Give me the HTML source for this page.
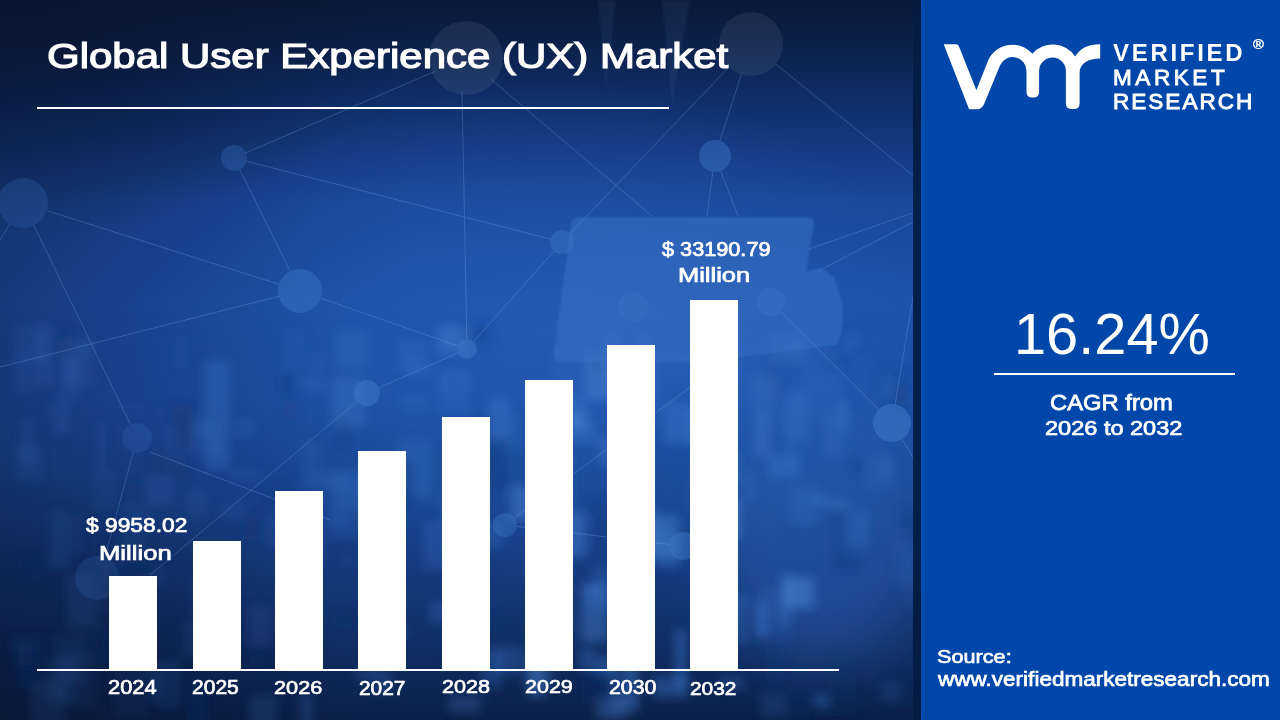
<!DOCTYPE html>
<html><head><meta charset="utf-8">
<style>
html,body{margin:0;padding:0;width:1280px;height:720px;overflow:hidden;background:#0a1a3d;}
body{position:relative;font-family:"Liberation Sans",sans-serif;color:#fff;}
#left{position:absolute;left:0;top:0;width:921px;height:720px;overflow:hidden;
  background:
   radial-gradient(ellipse 360px 260px at 0px 720px, rgba(9,20,48,0.6) 0%, rgba(9,20,48,0.3) 50%, rgba(9,20,48,0) 100%),
   radial-gradient(ellipse 420px 240px at 0px 0px, rgba(9,20,48,0.8) 0%, rgba(9,20,48,0.4) 50%, rgba(9,20,48,0) 100%),
   linear-gradient(90deg, rgba(10,24,60,0.42) 0%, rgba(10,24,60,0.22) 18%, rgba(10,24,60,0.05) 35%, rgba(10,24,60,0) 45%),
   radial-gradient(ellipse 380px 260px at 560px 340px, rgba(50,105,195,0.35) 0%, rgba(50,105,195,0) 100%),
   linear-gradient(180deg,#0a1838 0%,#0c2048 6%,#10306e 15%,#1a489b 28%,#1e52aa 42%,#1d50a6 55%,#18448f 70%,#12336f 86%,#0c2048 100%);}
#strip{position:absolute;left:913px;top:0;width:9px;height:720px;background:linear-gradient(180deg,#061a40,#04204a 30%,#03204a 70%,#061a40);}
#edge{position:absolute;left:922px;top:0;width:3px;height:720px;background:#0a52b8;opacity:.6}
#right{position:absolute;left:921px;top:0;width:359px;height:720px;background:#0047a9;}
.t{position:absolute;white-space:nowrap;font-weight:bold;line-height:1;transform-origin:0 0;}
.sb{font-weight:normal !important;-webkit-text-stroke:0.035em #fff;}
.bar{position:absolute;background:#fff;width:48px;}
.hl{position:absolute;background:#fff;height:2px;}
</style></head><body>
<div id="left">
  <svg id="net" width="921" height="720" style="position:absolute;left:0;top:0">
<defs><filter id="bl" x="-20%" y="-20%" width="140%" height="140%"><feGaussianBlur stdDeviation="5"/></filter><filter id="bl2"><feGaussianBlur stdDeviation="1"/></filter>
<filter id="bl3" x="-50%" y="-50%" width="200%" height="200%"><feGaussianBlur stdDeviation="30"/></filter>
<linearGradient id="lg" x1="0" y1="0" x2="0" y2="1"><stop offset="0" stop-color="#3a74c8" stop-opacity="0.42"/><stop offset="0.55" stop-color="#3a74c8" stop-opacity="0.3"/><stop offset="1" stop-color="#3a74c8" stop-opacity="0"/></linearGradient>
<mask id="cm" maskUnits="userSpaceOnUse" x="0" y="0" width="921" height="720"><rect x="0" y="0" width="921" height="720" fill="#fff"/><circle cx="234" cy="158" r="13" fill="#000"/><circle cx="23" cy="203" r="25" fill="#000"/><circle cx="300" cy="291" r="22" fill="#000"/><circle cx="467" cy="349" r="10" fill="#000"/><circle cx="367" cy="393" r="13" fill="#000"/><circle cx="466" cy="58" r="33" fill="#000"/><circle cx="751" cy="44" r="32" fill="#000"/><circle cx="715" cy="156" r="16" fill="#000"/><circle cx="562" cy="242" r="12" fill="#000"/><circle cx="633" cy="307" r="15" fill="#000"/><circle cx="505" cy="525" r="12" fill="#000"/><circle cx="892" cy="423" r="19" fill="#000"/><circle cx="683" cy="546" r="14" fill="#000"/><circle cx="771" cy="302" r="14" fill="#000"/><circle cx="137" cy="438" r="15" fill="#000"/><circle cx="97" cy="578" r="22" fill="#000"/></mask></defs>
<g filter="url(#bl3)">
<ellipse cx="820" cy="520" rx="110" ry="150" fill="#2a62b8" opacity="0.45"/>
<ellipse cx="60" cy="640" rx="90" ry="70" fill="#0a1a40" opacity="0.0"/>
</g>
<g filter="url(#bl)">
<rect x="298" y="377" width="26" height="12" fill="#3570c4" opacity="0.20"/>
<rect x="838" y="402" width="10" height="30" fill="#4a84d2" opacity="0.26"/>
<rect x="762" y="367" width="14" height="41" fill="#163a7c" opacity="0.16"/>
<rect x="46" y="404" width="24" height="15" fill="#4a84d2" opacity="0.06"/>
<rect x="284" y="630" width="13" height="38" fill="#3570c4" opacity="0.11"/>
<rect x="656" y="534" width="25" height="34" fill="#3570c4" opacity="0.36"/>
<rect x="850" y="457" width="15" height="17" fill="#13306a" opacity="0.19"/>
<rect x="484" y="653" width="28" height="23" fill="#13306a" opacity="0.16"/>
<rect x="152" y="450" width="34" height="30" fill="#13306a" opacity="0.33"/>
<rect x="528" y="653" width="17" height="44" fill="#4a84d2" opacity="0.40"/>
<rect x="63" y="356" width="16" height="44" fill="#4a84d2" opacity="0.11"/>
<rect x="596" y="697" width="31" height="23" fill="#4a84d2" opacity="0.30"/>
<rect x="866" y="455" width="25" height="34" fill="#3570c4" opacity="0.17"/>
<rect x="228" y="469" width="32" height="12" fill="#4a84d2" opacity="0.12"/>
<rect x="126" y="484" width="23" height="45" fill="#163a7c" opacity="0.37"/>
<rect x="882" y="377" width="13" height="20" fill="#3570c4" opacity="0.33"/>
<rect x="168" y="427" width="12" height="36" fill="#3570c4" opacity="0.17"/>
<rect x="636" y="516" width="25" height="43" fill="#4a84d2" opacity="0.48"/>
<rect x="361" y="472" width="11" height="41" fill="#3a74c8" opacity="0.32"/>
<rect x="406" y="362" width="25" height="13" fill="#4a84d2" opacity="0.15"/>
<rect x="335" y="330" width="32" height="40" fill="#3570c4" opacity="0.30"/>
<rect x="555" y="500" width="11" height="33" fill="#0f2a5c" opacity="0.14"/>
<rect x="79" y="359" width="18" height="22" fill="#13306a" opacity="0.28"/>
<rect x="189" y="682" width="18" height="44" fill="#163a7c" opacity="0.21"/>
<rect x="592" y="355" width="32" height="35" fill="#0f2a5c" opacity="0.16"/>
<rect x="491" y="616" width="17" height="20" fill="#13306a" opacity="0.21"/>
<rect x="754" y="601" width="14" height="35" fill="#3a74c8" opacity="0.47"/>
<rect x="728" y="499" width="13" height="39" fill="#4a84d2" opacity="0.49"/>
<rect x="880" y="459" width="14" height="20" fill="#3a74c8" opacity="0.25"/>
<rect x="907" y="552" width="8" height="55" fill="#4a84d2" opacity="0.14"/>
<rect x="608" y="666" width="30" height="47" fill="#3a74c8" opacity="0.33"/>
<rect x="586" y="353" width="34" height="46" fill="#4a84d2" opacity="0.49"/>
<rect x="668" y="385" width="12" height="16" fill="#163a7c" opacity="0.08"/>
<rect x="761" y="693" width="26" height="26" fill="#3a74c8" opacity="0.17"/>
<rect x="736" y="596" width="11" height="47" fill="#3a74c8" opacity="0.44"/>
<rect x="194" y="416" width="16" height="21" fill="#3570c4" opacity="0.14"/>
<rect x="768" y="343" width="29" height="55" fill="#163a7c" opacity="0.14"/>
<rect x="845" y="511" width="23" height="35" fill="#3570c4" opacity="0.34"/>
<rect x="560" y="615" width="12" height="15" fill="#3a74c8" opacity="0.35"/>
<rect x="300" y="517" width="24" height="49" fill="#4a84d2" opacity="0.11"/>
<rect x="176" y="336" width="11" height="32" fill="#3a74c8" opacity="0.11"/>
<rect x="564" y="512" width="22" height="44" fill="#4a84d2" opacity="0.43"/>
<rect x="468" y="414" width="23" height="54" fill="#163a7c" opacity="0.23"/>
<rect x="187" y="490" width="20" height="28" fill="#4a84d2" opacity="0.10"/>
<rect x="67" y="574" width="30" height="55" fill="#4a84d2" opacity="0.11"/>
<rect x="337" y="416" width="12" height="32" fill="#13306a" opacity="0.19"/>
<rect x="449" y="696" width="31" height="16" fill="#4a84d2" opacity="0.25"/>
<rect x="388" y="456" width="11" height="27" fill="#3570c4" opacity="0.22"/>
<rect x="17" y="446" width="25" height="35" fill="#3a74c8" opacity="0.14"/>
<rect x="97" y="421" width="9" height="49" fill="#3a74c8" opacity="0.12"/>
<rect x="782" y="577" width="34" height="29" fill="#4a84d2" opacity="0.33"/>
<rect x="645" y="354" width="10" height="44" fill="#3a74c8" opacity="0.29"/>
<rect x="16" y="354" width="15" height="40" fill="#3570c4" opacity="0.13"/>
<rect x="418" y="449" width="23" height="56" fill="#3a74c8" opacity="0.14"/>
<rect x="653" y="676" width="35" height="22" fill="#3570c4" opacity="0.42"/>
<rect x="489" y="398" width="20" height="43" fill="#3a74c8" opacity="0.43"/>
<rect x="34" y="327" width="22" height="59" fill="#3a74c8" opacity="0.13"/>
<rect x="98" y="631" width="20" height="34" fill="#0f2a5c" opacity="0.39"/>
<rect x="283" y="402" width="14" height="18" fill="#163a7c" opacity="0.25"/>
<rect x="373" y="452" width="10" height="15" fill="#4a84d2" opacity="0.31"/>
<rect x="397" y="341" width="27" height="28" fill="#3570c4" opacity="0.26"/>
<rect x="638" y="337" width="13" height="22" fill="#3570c4" opacity="0.54"/>
<rect x="896" y="528" width="15" height="58" fill="#3570c4" opacity="0.17"/>
<rect x="309" y="352" width="16" height="42" fill="#3a74c8" opacity="0.12"/>
<rect x="752" y="375" width="24" height="28" fill="#4a84d2" opacity="0.24"/>
<rect x="539" y="521" width="29" height="42" fill="#163a7c" opacity="0.13"/>
<rect x="300" y="694" width="12" height="46" fill="#3a74c8" opacity="0.25"/>
<rect x="659" y="515" width="20" height="44" fill="#4a84d2" opacity="0.47"/>
<rect x="524" y="629" width="8" height="44" fill="#163a7c" opacity="0.18"/>
<rect x="639" y="407" width="9" height="15" fill="#3a74c8" opacity="0.33"/>
<rect x="416" y="339" width="9" height="36" fill="#3570c4" opacity="0.13"/>
<rect x="735" y="604" width="22" height="36" fill="#13306a" opacity="0.17"/>
<rect x="436" y="628" width="32" height="20" fill="#13306a" opacity="0.22"/>
<rect x="899" y="508" width="19" height="33" fill="#13306a" opacity="0.21"/>
<rect x="592" y="349" width="12" height="21" fill="#0f2a5c" opacity="0.14"/>
<rect x="123" y="503" width="22" height="59" fill="#3a74c8" opacity="0.11"/>
<rect x="268" y="516" width="21" height="32" fill="#4a84d2" opacity="0.12"/>
<rect x="901" y="676" width="8" height="32" fill="#0f2a5c" opacity="0.27"/>
<rect x="356" y="668" width="34" height="12" fill="#4a84d2" opacity="0.22"/>
<rect x="877" y="370" width="31" height="34" fill="#163a7c" opacity="0.16"/>
<rect x="459" y="653" width="19" height="16" fill="#163a7c" opacity="0.16"/>
<rect x="278" y="373" width="18" height="24" fill="#13306a" opacity="0.19"/>
<rect x="312" y="471" width="34" height="18" fill="#4a84d2" opacity="0.16"/>
<rect x="343" y="469" width="36" height="39" fill="#3570c4" opacity="0.26"/>
<rect x="787" y="427" width="9" height="42" fill="#3a74c8" opacity="0.23"/>
<rect x="245" y="514" width="13" height="27" fill="#13306a" opacity="0.31"/>
<rect x="581" y="667" width="34" height="37" fill="#13306a" opacity="0.18"/>
<rect x="378" y="554" width="12" height="53" fill="#4a84d2" opacity="0.15"/>
<rect x="435" y="451" width="16" height="46" fill="#0f2a5c" opacity="0.16"/>
<rect x="220" y="504" width="27" height="14" fill="#3a74c8" opacity="0.10"/>
<rect x="834" y="509" width="14" height="55" fill="#0f2a5c" opacity="0.16"/>
<rect x="505" y="413" width="13" height="37" fill="#3570c4" opacity="0.23"/>
<rect x="525" y="657" width="29" height="29" fill="#4a84d2" opacity="0.23"/>
<rect x="249" y="606" width="22" height="38" fill="#4a84d2" opacity="0.16"/>
<rect x="580" y="648" width="14" height="22" fill="#3570c4" opacity="0.39"/>
<rect x="398" y="439" width="31" height="58" fill="#3570c4" opacity="0.29"/>
<rect x="825" y="500" width="24" height="8" fill="#4a84d2" opacity="0.38"/>
<rect x="895" y="414" width="11" height="16" fill="#4a84d2" opacity="0.15"/>
<rect x="760" y="586" width="32" height="55" fill="#3a74c8" opacity="0.17"/>
<rect x="116" y="536" width="9" height="45" fill="#163a7c" opacity="0.21"/>
<rect x="586" y="585" width="11" height="12" fill="#4a84d2" opacity="0.24"/>
<rect x="240" y="620" width="8" height="36" fill="#0f2a5c" opacity="0.34"/>
<rect x="594" y="656" width="21" height="20" fill="#3570c4" opacity="0.42"/>
<rect x="283" y="328" width="22" height="43" fill="#3570c4" opacity="0.13"/>
<rect x="391" y="461" width="22" height="44" fill="#0f2a5c" opacity="0.22"/>
<rect x="182" y="623" width="29" height="34" fill="#3a74c8" opacity="0.10"/>
<rect x="755" y="408" width="14" height="48" fill="#4a84d2" opacity="0.32"/>
<rect x="173" y="405" width="20" height="43" fill="#13306a" opacity="0.36"/>
<rect x="50" y="329" width="25" height="30" fill="#13306a" opacity="0.25"/>
<rect x="827" y="656" width="29" height="60" fill="#0f2a5c" opacity="0.12"/>
<rect x="601" y="519" width="21" height="24" fill="#0f2a5c" opacity="0.18"/>
<rect x="407" y="361" width="10" height="12" fill="#3a74c8" opacity="0.26"/>
<rect x="699" y="464" width="30" height="24" fill="#13306a" opacity="0.07"/>
<rect x="436" y="462" width="34" height="18" fill="#3570c4" opacity="0.15"/>
<rect x="378" y="628" width="29" height="10" fill="#3a74c8" opacity="0.30"/>
<rect x="57" y="394" width="10" height="39" fill="#3570c4" opacity="0.14"/>
<rect x="568" y="420" width="28" height="24" fill="#3a74c8" opacity="0.41"/>
<rect x="549" y="626" width="35" height="11" fill="#13306a" opacity="0.14"/>
<rect x="881" y="682" width="19" height="21" fill="#3570c4" opacity="0.17"/>
<rect x="457" y="323" width="34" height="24" fill="#13306a" opacity="0.19"/>
<rect x="302" y="441" width="18" height="49" fill="#3a74c8" opacity="0.17"/>
<rect x="147" y="475" width="26" height="33" fill="#3a74c8" opacity="0.15"/>
<rect x="814" y="695" width="15" height="12" fill="#3570c4" opacity="0.42"/>
<rect x="895" y="386" width="12" height="32" fill="#13306a" opacity="0.23"/>
<rect x="780" y="572" width="11" height="52" fill="#4a84d2" opacity="0.24"/>
<rect x="234" y="419" width="20" height="18" fill="#3570c4" opacity="0.21"/>
<rect x="533" y="444" width="19" height="60" fill="#3a74c8" opacity="0.36"/>
<rect x="93" y="496" width="9" height="8" fill="#13306a" opacity="0.36"/>
<rect x="842" y="335" width="16" height="14" fill="#4a84d2" opacity="0.20"/>
<rect x="69" y="515" width="13" height="39" fill="#163a7c" opacity="0.39"/>
<rect x="97" y="547" width="25" height="19" fill="#3a74c8" opacity="0.05"/>
<rect x="921" y="335" width="29" height="56" fill="#0f2a5c" opacity="0.18"/>
<rect x="342" y="556" width="10" height="10" fill="#3570c4" opacity="0.12"/>
<rect x="93" y="470" width="23" height="41" fill="#3a74c8" opacity="0.09"/>
<rect x="250" y="696" width="27" height="30" fill="#4a84d2" opacity="0.17"/>
<rect x="329" y="478" width="32" height="60" fill="#3a74c8" opacity="0.18"/>
<rect x="373" y="678" width="20" height="16" fill="#3a74c8" opacity="0.21"/>
<rect x="813" y="495" width="13" height="9" fill="#4a84d2" opacity="0.37"/>
<rect x="365" y="538" width="34" height="46" fill="#3570c4" opacity="0.18"/>
<rect x="480" y="672" width="11" height="34" fill="#13306a" opacity="0.13"/>
<rect x="771" y="337" width="34" height="24" fill="#4a84d2" opacity="0.28"/>
<rect x="833" y="556" width="31" height="16" fill="#13306a" opacity="0.19"/>
<rect x="566" y="395" width="21" height="37" fill="#4a84d2" opacity="0.23"/>
<rect x="331" y="377" width="35" height="50" fill="#4a84d2" opacity="0.27"/>
<rect x="619" y="574" width="17" height="28" fill="#4a84d2" opacity="0.46"/>
<rect x="598" y="437" width="15" height="28" fill="#4a84d2" opacity="0.33"/>
<rect x="22" y="555" width="22" height="20" fill="#0f2a5c" opacity="0.36"/>
<rect x="746" y="472" width="10" height="27" fill="#3570c4" opacity="0.33"/>
<rect x="605" y="335" width="12" height="56" fill="#4a84d2" opacity="0.36"/>
<rect x="50" y="511" width="19" height="57" fill="#3a74c8" opacity="0.14"/>
<rect x="674" y="630" width="13" height="59" fill="#3a74c8" opacity="0.43"/>
<rect x="664" y="404" width="31" height="40" fill="#3570c4" opacity="0.51"/>
<rect x="253" y="630" width="12" height="34" fill="#13306a" opacity="0.26"/>
<rect x="567" y="410" width="18" height="18" fill="#4a84d2" opacity="0.47"/>
<rect x="626" y="660" width="13" height="49" fill="#4a84d2" opacity="0.21"/>
<rect x="790" y="687" width="21" height="35" fill="#13306a" opacity="0.12"/>
<rect x="493" y="646" width="29" height="27" fill="#3570c4" opacity="0.32"/>
<rect x="332" y="611" width="20" height="17" fill="#13306a" opacity="0.17"/>
<rect x="475" y="438" width="35" height="53" fill="#0f2a5c" opacity="0.20"/>
<rect x="688" y="404" width="16" height="41" fill="#3570c4" opacity="0.49"/>
<rect x="122" y="406" width="26" height="9" fill="#3570c4" opacity="0.08"/>
<rect x="482" y="523" width="20" height="24" fill="#3570c4" opacity="0.32"/>
<rect x="437" y="371" width="34" height="21" fill="#3a74c8" opacity="0.15"/>
<rect x="133" y="573" width="16" height="50" fill="#13306a" opacity="0.31"/>
<rect x="518" y="453" width="26" height="31" fill="#163a7c" opacity="0.15"/>
<rect x="152" y="320" width="10" height="9" fill="#3a74c8" opacity="0.06"/>
<rect x="717" y="325" width="23" height="57" fill="#3a74c8" opacity="0.35"/>
<rect x="592" y="566" width="20" height="40" fill="#3a74c8" opacity="0.28"/>
<rect x="45" y="658" width="30" height="45" fill="#3570c4" opacity="0.12"/>
<rect x="429" y="602" width="21" height="20" fill="#3a74c8" opacity="0.29"/>
<rect x="114" y="659" width="34" height="57" fill="#3a74c8" opacity="0.07"/>
<rect x="510" y="486" width="30" height="35" fill="#4a84d2" opacity="0.43"/>
<rect x="824" y="352" width="22" height="17" fill="#163a7c" opacity="0.12"/>
<rect x="147" y="668" width="13" height="28" fill="#3570c4" opacity="0.14"/>
<rect x="581" y="583" width="27" height="59" fill="#4a84d2" opacity="0.41"/>
<rect x="790" y="486" width="28" height="38" fill="#3a74c8" opacity="0.27"/>
<rect x="539" y="535" width="13" height="10" fill="#4a84d2" opacity="0.45"/>
<rect x="318" y="374" width="9" height="10" fill="#163a7c" opacity="0.13"/>
<rect x="62" y="338" width="32" height="48" fill="#4a84d2" opacity="0.13"/>
<rect x="61" y="650" width="34" height="57" fill="#3a74c8" opacity="0.07"/>
<rect x="31" y="681" width="34" height="47" fill="#4a84d2" opacity="0.11"/>
<rect x="439" y="370" width="30" height="42" fill="#3570c4" opacity="0.25"/>
<rect x="19" y="418" width="16" height="45" fill="#3570c4" opacity="0.12"/>
<rect x="554" y="501" width="16" height="47" fill="#13306a" opacity="0.13"/>
<rect x="712" y="452" width="28" height="36" fill="#3a74c8" opacity="0.37"/>
<rect x="264" y="486" width="23" height="23" fill="#13306a" opacity="0.13"/>
<rect x="452" y="507" width="30" height="18" fill="#3570c4" opacity="0.39"/>
<rect x="474" y="540" width="12" height="50" fill="#13306a" opacity="0.17"/>
<rect x="101" y="562" width="10" height="49" fill="#13306a" opacity="0.31"/>
<rect x="328" y="472" width="19" height="54" fill="#4a84d2" opacity="0.11"/>
<rect x="190" y="420" width="33" height="34" fill="#4a84d2" opacity="0.10"/>
<rect x="424" y="522" width="29" height="47" fill="#3570c4" opacity="0.28"/>
<rect x="481" y="650" width="21" height="37" fill="#3570c4" opacity="0.27"/>
<rect x="712" y="540" width="12" height="32" fill="#13306a" opacity="0.13"/>
<rect x="246" y="607" width="31" height="40" fill="#13306a" opacity="0.29"/>
<rect x="555" y="452" width="15" height="58" fill="#4a84d2" opacity="0.48"/>
<rect x="152" y="570" width="13" height="16" fill="#3570c4" opacity="0.13"/>
<rect x="401" y="395" width="26" height="14" fill="#3570c4" opacity="0.23"/>
<rect x="12" y="645" width="20" height="20" fill="#0f2a5c" opacity="0.27"/>
<rect x="131" y="549" width="19" height="47" fill="#0f2a5c" opacity="0.33"/>
<rect x="541" y="566" width="32" height="43" fill="#163a7c" opacity="0.17"/>
<rect x="785" y="578" width="26" height="32" fill="#4a84d2" opacity="0.36"/>
<rect x="824" y="412" width="19" height="45" fill="#3570c4" opacity="0.28"/>
<rect x="18" y="646" width="23" height="42" fill="#163a7c" opacity="0.23"/>
<rect x="10" y="636" width="33" height="14" fill="#3a74c8" opacity="0.06"/>
<rect x="720" y="677" width="23" height="13" fill="#4a84d2" opacity="0.25"/>
<rect x="438" y="326" width="30" height="27" fill="#4a84d2" opacity="0.38"/>
<rect x="193" y="580" width="19" height="48" fill="#4a84d2" opacity="0.11"/>
<rect x="52" y="424" width="19" height="9" fill="#3570c4" opacity="0.11"/>
<rect x="622" y="540" width="11" height="24" fill="#4a84d2" opacity="0.53"/>
<rect x="916" y="685" width="21" height="17" fill="#13306a" opacity="0.25"/>
<rect x="584" y="498" width="24" height="20" fill="#0f2a5c" opacity="0.15"/>
<rect x="765" y="622" width="20" height="60" fill="#163a7c" opacity="0.10"/>
<rect x="768" y="455" width="32" height="22" fill="#3570c4" opacity="0.46"/>
<rect x="625" y="503" width="31" height="50" fill="#4a84d2" opacity="0.30"/>
<rect x="442" y="483" width="26" height="42" fill="#3570c4" opacity="0.36"/>
<rect x="53" y="635" width="33" height="49" fill="#3570c4" opacity="0.11"/>
<rect x="14" y="324" width="35" height="42" fill="#3a74c8" opacity="0.10"/>
<rect x="787" y="391" width="21" height="49" fill="#3570c4" opacity="0.39"/>
<rect x="155" y="659" width="25" height="49" fill="#163a7c" opacity="0.34"/>
<rect x="204" y="360" width="26" height="110" rx="8" fill="#3a74c8" opacity="0.35"/>
</g>
<path d="M580 217 L808 217 Q815 217 814 224 L806 272 Q825 262 835 280 L842 300 Q846 330 836 345 L700 362 L562 362 Q553 362 554 352 L571 224 Q572 217 580 217 Z" fill="#3a74c8" opacity="0.5" filter="url(#bl2)"/>
<path d="M554 346 L700 356 L836 345 L850 420 L760 440 L600 450 L545 440 Z" fill="url(#lg)" opacity="0.5" filter="url(#bl)"/>
<g stroke="#7fb0ef" stroke-width="1" opacity="0.28" mask="url(#cm)">
<line x1="234" y1="158" x2="466" y2="58"/>
<line x1="234" y1="158" x2="562" y2="242"/>
<line x1="234" y1="158" x2="300" y2="291"/>
<line x1="23" y1="203" x2="300" y2="291"/>
<line x1="23" y1="203" x2="137" y2="438"/>
<line x1="23" y1="203" x2="0" y2="240"/>
<line x1="300" y1="291" x2="467" y2="349"/>
<line x1="300" y1="291" x2="0" y2="367"/>
<line x1="462" y1="90" x2="467" y2="349"/>
<line x1="367" y1="393" x2="467" y2="349"/>
<line x1="367" y1="393" x2="150" y2="575"/>
<line x1="466" y1="58" x2="652" y2="216"/>
<line x1="751" y1="44" x2="921" y2="182"/>
<line x1="715" y1="156" x2="751" y2="44"/>
<line x1="715" y1="156" x2="707" y2="216"/>
<line x1="715" y1="156" x2="738" y2="216"/>
<line x1="562" y1="242" x2="467" y2="349"/>
<line x1="562" y1="242" x2="751" y2="44"/>
<line x1="809" y1="249" x2="921" y2="210"/>
<line x1="818" y1="271" x2="921" y2="218"/>
<line x1="892" y1="423" x2="771" y2="302"/>
<line x1="892" y1="423" x2="921" y2="250"/>
<line x1="683" y1="546" x2="505" y2="525"/>
<line x1="137" y1="438" x2="100" y2="576"/>
<line x1="150" y1="452" x2="330" y2="520"/>
<line x1="505" y1="525" x2="700" y2="380"/>
<line x1="892" y1="423" x2="921" y2="470"/>
</g><g fill="#3f78c8">
<circle cx="234" cy="158" r="13" opacity="0.3"/>
<circle cx="23" cy="203" r="25" opacity="0.22"/>
<circle cx="300" cy="291" r="22" opacity="0.45"/>
<circle cx="467" cy="349" r="10" opacity="0.5"/>
<circle cx="367" cy="393" r="13" opacity="0.5"/>
<circle cx="466" cy="58" r="33" opacity="0"/>
<circle cx="751" cy="44" r="32" opacity="0"/>
<circle cx="715" cy="156" r="16" opacity="0.45"/>
<circle cx="562" cy="242" r="12" opacity="0.45"/>
<circle cx="633" cy="307" r="15" opacity="0.3"/>
<circle cx="505" cy="525" r="12" opacity="0.4"/>
<circle cx="892" cy="423" r="19" opacity="0.55"/>
<circle cx="683" cy="546" r="14" opacity="0.45"/>
<circle cx="771" cy="302" r="14" opacity="0.35"/>
<circle cx="137" cy="438" r="15" opacity="0.2"/>
<circle cx="97" cy="578" r="22" opacity="0.18"/>
</g>
<g fill="#fff"><circle cx="466" cy="58" r="37" opacity="0.07"/><circle cx="751" cy="44" r="32" opacity="0.07"/></g>
<g fill="#8ab4ee" filter="url(#bl2)"><path d="M598 0 L616 0 L606 90 Z" opacity="0.07"/><path d="M662 0 L690 0 L672 105 Z" opacity="0.07"/></g>
</svg>
  <div class="t sb" id="title" style="left:47.0px;top:39.0px;font-size:34.94px;transform:scaleX(1.2022)">Global User Experience (UX) Market</div>
  <div class="hl" style="left:37px;top:107px;width:632px;"></div>

  <div class="bar" style="left:109px;top:576px;height:94px"></div>
  <div class="bar" style="left:193px;top:541px;height:129px"></div>
  <div class="bar" style="left:275px;top:491px;height:179px"></div>
  <div class="bar" style="left:358px;top:451px;height:219px"></div>
  <div class="bar" style="left:442px;top:417px;height:253px"></div>
  <div class="bar" style="left:525px;top:380px;height:290px"></div>
  <div class="bar" style="left:607px;top:345px;height:325px"></div>
  <div class="bar" style="left:690px;top:300px;height:370px"></div>
  <div class="hl" style="left:37px;top:669px;width:802px;"></div>

  <div id="l1a" class="t sb lab" style="left:85.9px;top:514.0px;font-size:21.0px;transform:scaleX(1.0848)">$ 9958.02</div>
  <div id="l1b" class="t sb lab" style="left:99.2px;top:543.0px;font-size:20.55px;transform:scaleX(1.2474)">Million</div>
  <div id="l2a" class="t sb lab" style="left:661.5px;top:237.8px;font-size:21.0px;transform:scaleX(1.0324)">$ 33190.79</div>
  <div id="l2b" class="t sb lab" style="left:678.2px;top:266.4px;font-size:19.5px;transform:scaleX(1.306)">Million</div>

  <div id="y24" class="t sb yr" style="left:107.8px;top:677.6px;font-size:19.9px;transform:scaleX(1.0974)">2024</div>
  <div id="y25" class="t sb yr" style="left:192.4px;top:677.6px;font-size:19.9px;transform:scaleX(1.0581)">2025</div>
  <div id="y26" class="t sb yr" style="left:274.1px;top:679.3px;font-size:18.89px;transform:scaleX(1.1497)">2026</div>
  <div id="y27" class="t sb yr" style="left:358.5px;top:677.5px;font-size:20.41px;transform:scaleX(1.0192)">2027</div>
  <div id="y28" class="t sb yr" style="left:441.5px;top:677.5px;font-size:18.89px;transform:scaleX(1.1427)">2028</div>
  <div id="y29" class="t sb yr" style="left:524.5px;top:677.5px;font-size:18.89px;transform:scaleX(1.1374)">2029</div>
  <div id="y30" class="t sb yr" style="left:608.8px;top:677.8px;font-size:19.52px;transform:scaleX(1.0929)">2030</div>
  <div id="y32" class="t sb yr" style="left:690.2px;top:679.3px;font-size:19.05px;transform:scaleX(1.0976)">2032</div>
</div>
<div id="strip"></div>
<div id="right">
  <div id="edge" style="left:0"></div>
  <div id="v1" class="t" style="left:192.0px;top:41.0px;font-size:24.0px;letter-spacing:2.7px">VERIFIED</div>
  <div id="v2" class="t" style="left:192.0px;top:67.0px;font-size:22.5px;letter-spacing:3.58px;font-weight:normal;-webkit-text-stroke:0.9px #fff">MARKET</div>
  <div id="v3" class="t" style="left:192.0px;top:91.0px;font-size:22.5px;letter-spacing:2.03px;font-weight:normal;-webkit-text-stroke:0.9px #fff">RESEARCH</div>
  <div id="reg" class="t" style="left:332.0px;top:39.0px;font-size:12.73px;transform:scaleX(1.1603);font-weight:normal;-webkit-text-stroke:0.4px #fff">&#174;</div>
  <div class="t" id="cagr" style="left:93.2px;top:306.0px;font-size:57.24px;transform:scaleX(1.0089);font-weight:normal">16.24%</div>
  <div class="hl" style="left:73px;top:373px;width:241px;"></div>
  <div id="c1" class="t sb" style="left:128.7px;top:392.6px;font-size:21.43px;transform:scaleX(1.1096)">CAGR from</div>
  <div id="c2" class="t sb" style="left:124.3px;top:417.9px;font-size:20.42px;transform:scaleX(1.153)">2026 to 2032</div>
  <div id="s1" class="t sb" style="left:15.8px;top:649.4px;font-size:17.58px;transform:scaleX(1.2328)">Source:</div>
  <div id="s2" class="t sb" style="left:16.5px;top:670.1px;font-size:19.81px;transform:scaleX(1.1379)">www.verifiedmarketresearch.com</div>
</div>
<svg class="logo" width="1280" height="720" style="position:absolute;left:0;top:0;pointer-events:none">
<path fill="#fff" d="M943.7 44.3 L956.5 44.3 Q958.3 44.5 959 46.5 L976.4 90.2 L988.7 59 A26.8 26.8 0 0 1 1032.4 53.8 A26.8 26.8 0 0 1 1075.1 56.5 C1080 48.5 1088 44.3 1100.2 44.3 L1100.2 58.6 C1088 58.6 1079.6 63.5 1079.6 73 L1079.6 103 Q1079.6 108.9 1074.5 108.9 L1071 108.9 Q1065.9 108.9 1065.9 103 L1065.9 70.9 A13.4 13.4 0 0 0 1039.1 70.9 L1039.1 92 Q1039.1 97.4 1034.3 97.4 L1031.3 97.4 Q1026.5 97.4 1026.5 92 L1026.5 70.9 A13.8 13.8 0 0 0 1000.2 65 L984.3 103.5 Q982 109.3 977 109.3 L969.1 109.3 Z"/>
</svg>
</body></html>
